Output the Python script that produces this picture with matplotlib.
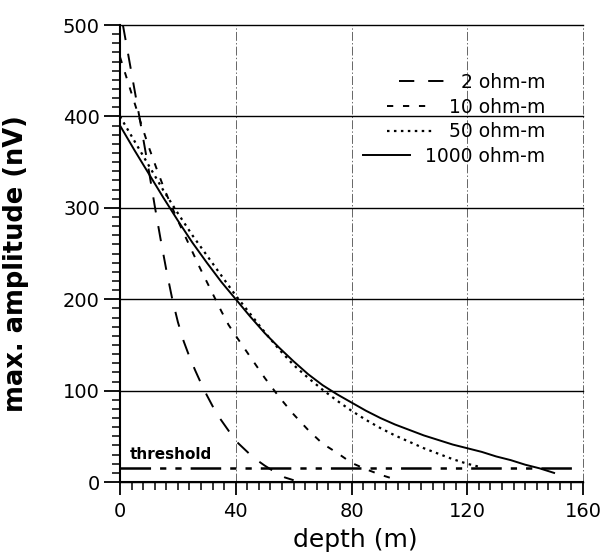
import numpy as np
import matplotlib
matplotlib.use("Agg")
import matplotlib.pyplot as plt
from matplotlib.ticker import MultipleLocator

plt.rcParams['font.family'] = ['DejaVu Sans']
plt.rcParams['lines.scale_dashes'] = False

# curves: depth (m) -> max. amplitude (nV)
d_2 = [1, 4, 7, 10, 12, 14, 16, 18, 20, 22, 24, 26, 28, 30, 32, 34, 36, 38, 40,
       43, 46, 50, 54, 57, 60]
a_2 = [500, 447, 394, 340, 302, 266, 232, 201, 175, 154, 137, 122, 108, 95, 83,
       72, 63, 54, 45, 36, 27, 18, 10, 5, 2]

d_10 = [0, 2.5, 5, 7.5, 10, 12.5, 15, 17.5, 20, 22.5, 25, 27.5, 30, 32.5, 35,
        37.5, 40, 45, 50, 55, 60, 65, 70, 75, 80, 85, 90, 95]
a_10 = [465, 440, 415, 390, 366, 344, 323, 304, 286, 269, 252, 235, 219, 203,
        187, 172, 160, 137, 114, 93, 74, 57, 42, 32, 21, 14, 8, 3]

d_50 = [0, 5, 10, 15, 20, 25, 30, 35, 40, 45, 50, 55, 60, 65, 70, 75, 80, 85,
        90, 95, 100, 105, 110, 115, 120, 125]
a_50 = [400, 373, 346, 319, 294, 270, 248, 226, 204, 184, 164, 145, 128, 114,
        101, 89, 78, 68, 59, 51, 44, 37, 31, 25, 20, 16]

d_1000 = [0, 5, 10, 15, 20, 25, 30, 35, 40, 45, 50, 55, 60, 65, 70, 75, 80, 85,
          90, 95, 100, 105, 110, 115, 120, 125, 130, 135, 140, 145, 150]
a_1000 = [390, 363, 337, 311, 286, 262, 240, 219, 200, 181, 163, 147, 132, 118,
          106, 96, 87, 78, 70, 63, 57, 51, 46, 41, 37, 33, 28, 24, 19, 15, 10]

thr_d = [0, 157]
thr_a = [15, 15]

fig = plt.figure(figsize=(6.01, 5.56), dpi=100)
ax = fig.add_axes([0.1997, 0.133, 0.7704, 0.822])

ax.plot(d_2, a_2, color='black', lw=1.4, dashes=(11, 10), label='2 ohm-m')
ax.plot(d_10, a_10, color='black', lw=1.4, dashes=(4.5, 7), label='10 ohm-m')
ax.plot(d_50, a_50, color='black', lw=1.6, dashes=(1.8, 3.2), label='50 ohm-m')
ax.plot(d_1000, a_1000, color='black', lw=1.4, label='1000 ohm-m')
ax.plot(thr_d, thr_a, color='black', lw=1.8, dashes=(22, 6.5, 4.5, 6.5, 4.5, 6.5))

ax.text(3.5, 25, 'threshold', fontsize=11, fontweight='bold')

ax.set_xlim(0, 160)
ax.set_ylim(0, 500)
ax.xaxis.set_major_locator(MultipleLocator(40))
ax.xaxis.set_minor_locator(MultipleLocator(4))
ax.yaxis.set_major_locator(MultipleLocator(100))
ax.yaxis.set_minor_locator(MultipleLocator(10))

ax.tick_params(which='major', direction='out', width=1.3, labelsize=14)
ax.tick_params(axis='y', which='major', length=11.5, pad=3)
ax.tick_params(axis='x', which='major', length=9.5, pad=5)
ax.tick_params(which='minor', direction='out', length=5.5, width=1.1)

ax.grid(axis='y', color='black', lw=1.0, ls='-')
ax.grid(axis='x', color='#666666', lw=0.7, ls='-.')
for gl in ax.get_xgridlines() + ax.get_ygridlines():
    gl.set_clip_on(False)

ax.spines['top'].set_visible(False)
ax.spines['right'].set_visible(False)
ax.spines['left'].set_linewidth(1.5)
ax.spines['bottom'].set_linewidth(1.5)

ax.set_xlabel('depth (m)', fontsize=18)
ax.set_ylabel('max. amplitude (nV)', fontsize=18.5, fontweight='bold')
ax.xaxis.set_label_coords(0.508, -0.1)
ax.yaxis.set_label_coords(-0.197, 0.477)

leg = ax.legend(loc='upper right', bbox_to_anchor=(0.918, 0.895), frameon=False,
                fontsize=13.5, handlelength=2.5, handletextpad=0.8,
                labelspacing=0.3, borderpad=0, borderaxespad=0)
# right-align the rows so the numbers line up like the original
leg._legend_handle_box.get_children()[0].align = 'right'

fig.savefig('out.png', dpi=100)
